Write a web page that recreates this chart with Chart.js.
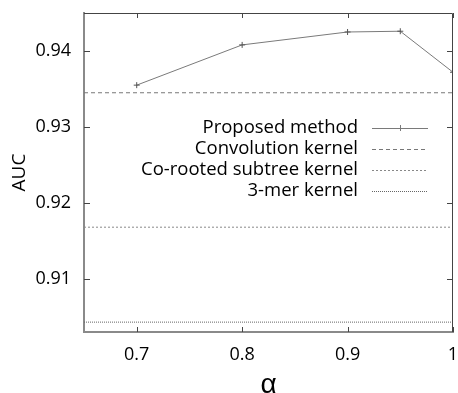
<!DOCTYPE html>
<html>
<head>
<meta charset="utf-8">
<script src="https://cdn.jsdelivr.net/npm/chart.js@4.4.1/dist/chart.umd.min.js"></script>
<style>
  html, body { margin: 0; padding: 0; background: #ffffff; }
  #wrap { width: 458px; height: 393px; }
</style>
</head>
<body>
<div id="wrap"><canvas id="auc"></canvas></div>
<script>
// values
const alphaValues = [0.7, 0.8, 0.9, 0.95, 1.0];
const proposedAuc = [0.9355, 0.9408, 0.9425, 0.9426, 0.9372];
const convolutionAuc = 0.9345;
const coRootedAuc = 0.9168;
const threeMerAuc = 0.9043;
const xRange = [0.65, 1.0];
const yRange = [0.903, 0.945];
const xTicks = [0.7, 0.8, 0.9, 1];
const yTicks = [0.91, 0.92, 0.93, 0.94];
const seriesLabels = ['Proposed method', 'Convolution kernel', 'Co-rooted subtree kernel', '3-mer kernel'];

const FONT = "'Open Sans', 'Noto Sans', sans-serif";

function flatLine(v) {
    return xRange.map(x => ({ x: x, y: v }));
}

// рамка + засечки внутрь со всех четырёх сторон
const framePlugin = {
    id: 'frame',
    afterDraw(chart) {
        const ctx = chart.ctx;
        const a = chart.chartArea;
        const xs = chart.scales.x, ys = chart.scales.y;
        ctx.save();
        ctx.strokeStyle = '#444';
        ctx.lineWidth = 1;
        ctx.beginPath();
        ctx.moveTo(a.left, a.top + 0.5);
        ctx.lineTo(a.right - 0.5, a.top + 0.5);
        ctx.lineTo(a.right - 0.5, a.bottom);
        ctx.stroke();
        ctx.beginPath();
        xTicks.forEach(v => {
            const px = Math.round(xs.getPixelForValue(v)) + 0.5;
            ctx.moveTo(px, a.bottom); ctx.lineTo(px, a.bottom - 5);
            ctx.moveTo(px, a.top); ctx.lineTo(px, a.top + 5);
        });
        yTicks.forEach(v => {
            const py = Math.round(ys.getPixelForValue(v)) + 0.5;
            ctx.moveTo(a.left, py); ctx.lineTo(a.left + 6, py);
            ctx.moveTo(a.right, py); ctx.lineTo(a.right - 6, py);
        });
        ctx.stroke();
        ctx.restore();
    }
};

// легенда в стиле gnuplot: текст справа выровнен, образец линии после него
const keyPlugin = {
    id: 'gnuKey',
    afterDraw(chart) {
        const ctx = chart.ctx;
        const textRight = 358, sampleL = 372, sampleR = 428, top = 128, step = 21;
        ctx.save();
        ctx.font = '18.5px ' + FONT;
        ctx.textAlign = 'right';
        ctx.textBaseline = 'middle';
        chart.data.datasets.forEach((ds, i) => {
            const y = top + i * step;
            ctx.fillStyle = '#000';
            ctx.fillText(ds.label, textRight, y);
            ctx.strokeStyle = ds.borderColor;
            ctx.lineWidth = ds.borderWidth;
            ctx.setLineDash(ds.borderDash || []);
            ctx.beginPath();
            ctx.moveTo(sampleL, y + 0.5);
            ctx.lineTo(sampleR, y + 0.5);
            ctx.stroke();
            if (ds.pointRadius > 0) {
                const cx = (sampleL + sampleR) / 2;
                ctx.setLineDash([]);
                ctx.beginPath();
                ctx.moveTo(cx - 3, y + 0.5); ctx.lineTo(cx + 3, y + 0.5);
                ctx.moveTo(cx + 0.5, y - 3); ctx.lineTo(cx + 0.5, y + 3);
                ctx.stroke();
            }
        });
        ctx.restore();
    }
};

new Chart(document.getElementById('auc'), {
    type: 'line',
    plugins: [framePlugin, keyPlugin],
    data: {
        datasets: [
            {
                label: seriesLabels[0],
                data: alphaValues.map((x, i) => ({ x: x, y: proposedAuc[i] })),
                borderColor: '#7a7a7a',
                borderWidth: 1,
                pointStyle: 'cross',
                pointRadius: 3,
                pointBorderColor: '#555',
                pointBorderWidth: 1,
                tension: 0
            },
            {
                label: seriesLabels[1],
                data: flatLine(convolutionAuc),
                borderColor: '#777',
                borderWidth: 1,
                borderDash: [4, 3],
                pointRadius: 0
            },
            {
                label: seriesLabels[2],
                data: flatLine(coRootedAuc),
                borderColor: '#888',
                borderWidth: 1,
                borderDash: [2, 2],
                pointRadius: 0
            },
            {
                label: seriesLabels[3],
                data: flatLine(threeMerAuc),
                borderColor: '#666',
                borderWidth: 1,
                borderDash: [1, 1],
                pointRadius: 0
            }
        ]
    },
    options: {
        responsive: true,
        maintainAspectRatio: false,
        animation: false,
        layout: { padding: { top: 13, right: 1, left: 0, bottom: 0 } },
        plugins: {
            legend: { display: false },
            tooltip: { enabled: false }
        },
        scales: {
            x: {
                type: 'linear',
                min: xRange[0],
                max: xRange[1],
                afterBuildTicks: s => { s.ticks = xTicks.map(v => ({ value: v })); },
                afterFit: s => { s.height = 61; s.paddingLeft = 0; s.paddingRight = 0; },
                grid: { drawOnChartArea: false, drawTicks: false },
                border: { color: '#8a8a8a', width: 2 },
                ticks: {
                    padding: 12,
                    color: '#000',
                    font: { family: FONT, size: 18 },
                    callback: v => String(v)
                },
                title: {
                    display: true,
                    text: 'α',
                    color: '#000',
                    font: { family: "'Liberation Sans', sans-serif", size: 28, lineHeight: 1 },
                    padding: { top: 0, bottom: -6 }
                }
            },
            y: {
                min: yRange[0],
                max: yRange[1],
                afterBuildTicks: s => { s.ticks = yTicks.map(v => ({ value: v })); },
                afterFit: s => { s.width = 84; s.paddingTop = 0; s.paddingBottom = 0; },
                grid: { drawOnChartArea: false, drawTicks: false },
                border: { color: '#8a8a8a', width: 2 },
                ticks: {
                    padding: 13,
                    color: '#000',
                    font: { family: FONT, size: 18 },
                    callback: v => String(v)
                },
                title: {
                    display: true,
                    text: 'AUC',
                    color: '#000',
                    font: { family: FONT, size: 19, lineHeight: 1.2 },
                    padding: { top: 8, bottom: 0 }
                }
            }
        }
    }
});
</script>
</body>
</html>
